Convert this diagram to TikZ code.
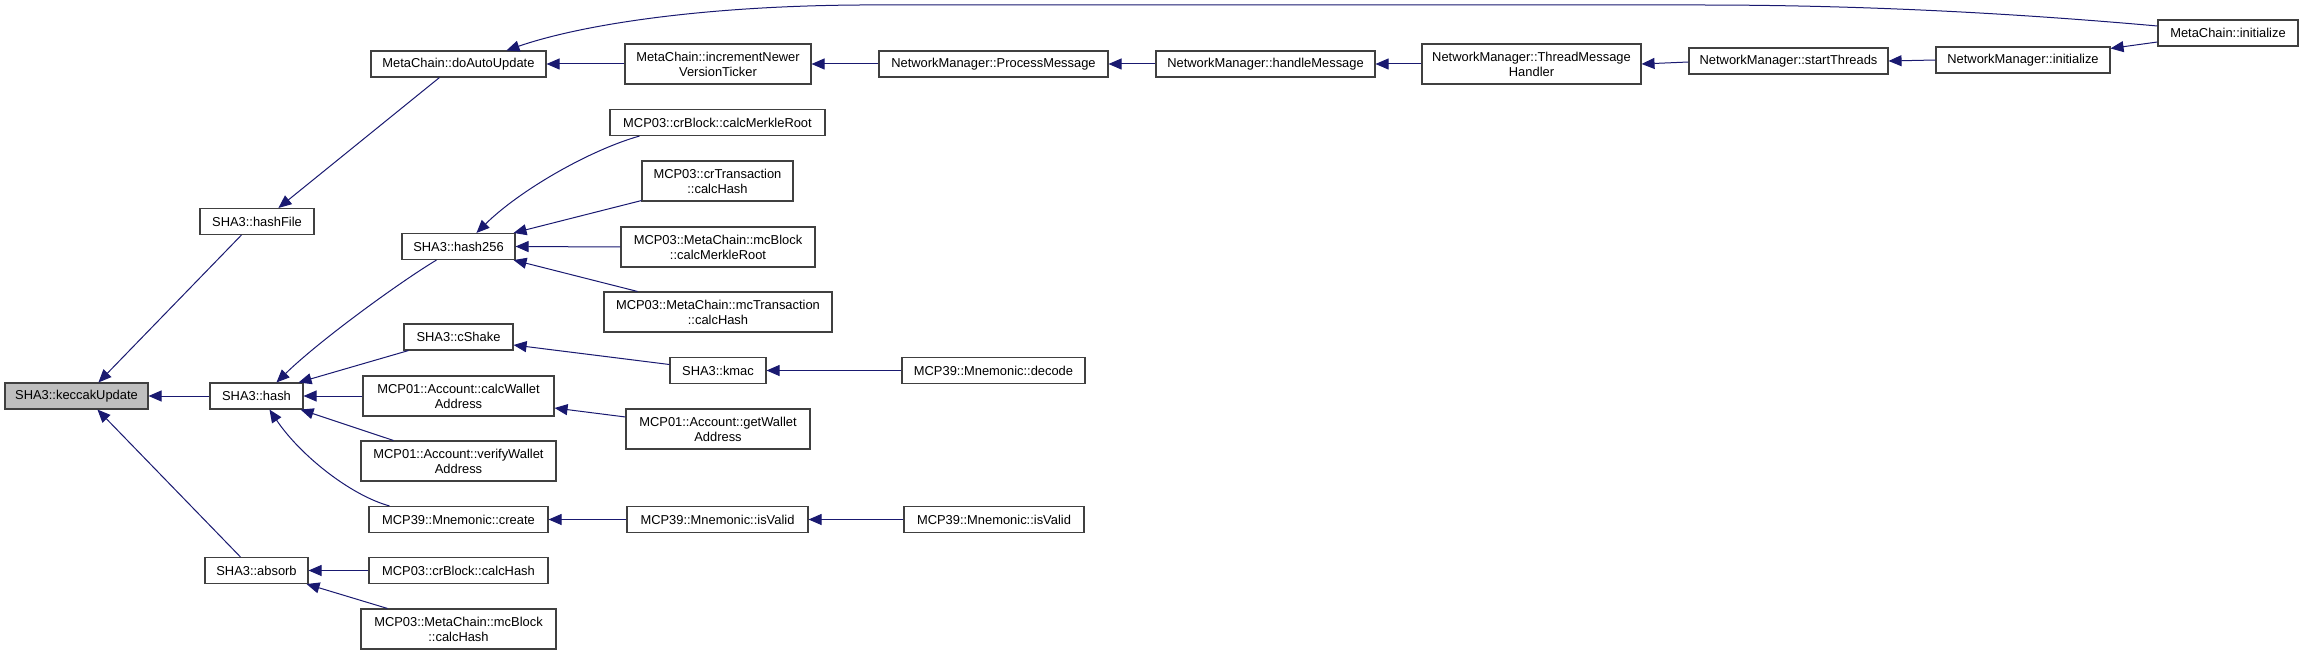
\documentclass[tikz,border=0pt]{standalone}
\usepackage{fontspec}
\setmainfont{Liberation Sans}
\usetikzlibrary{arrows.meta}
\definecolor{edgecol}{HTML}{191970}
\definecolor{boxcol}{HTML}{404040}
\definecolor{curfill}{HTML}{BFBFBF}
\begin{document}
\begin{tikzpicture}[x=1pt,y=-1pt,
  fn/.style={draw=boxcol, line width=1.1pt, fill=white, inner sep=0pt, align=center,
    font=\fontsize{12.9}{15}\selectfont, text=black},
  one/.style={minimum height=26pt},
  two/.style={minimum height=40pt},
  edge/.style={draw=edgecol, line width=1pt, -{Triangle[length=13pt,width=11pt]}}]
\useasboundingbox (0,0) rectangle (2303,655);
% column 0
\node[fn,one,fill=curfill,minimum width=143pt] (keccak) at (76.5,396) {SHA3::keccakUpdate};
% column 1
\node[fn,one,minimum width=114pt] (hashFile) at (257,221.5) {SHA3::hashFile};
\node[fn,one,minimum width=93pt] (hash) at (256.5,396) {SHA3::hash};
\node[fn,one,minimum width=103pt] (absorb) at (256.5,570.5) {SHA3::absorb};
% column 2
\node[fn,one,minimum width=175pt] (doAuto) at (458.5,64) {MetaChain::doAutoUpdate};
\node[fn,one,minimum width=113pt] (hash256) at (458.5,246.5) {SHA3::hash256};
\node[fn,one,minimum width=109pt] (cShake) at (458.5,337) {SHA3::cShake};
\node[fn,two,minimum width=191pt] (calcWallet) at (458.5,396) {MCP01::Account::calcWallet\\Address};
\node[fn,two,minimum width=195pt] (verifyWallet) at (458.5,461) {MCP01::Account::verifyWallet\\Address};
\node[fn,one,minimum width=179pt] (create) at (458.5,519.5) {MCP39::Mnemonic::create};
\node[fn,one,minimum width=179pt] (crBlockHash) at (458.5,570.5) {MCP03::crBlock::calcHash};
\node[fn,two,minimum width=195pt] (mcBlockHash) at (458.5,629) {MCP03::MetaChain::mcBlock\\::calcHash};
% column 3
\node[fn,two,minimum width=186pt] (incNewer) at (718,64) {MetaChain::incrementNewer\\VersionTicker};
\node[fn,one,minimum width=215pt] (crMerkle) at (717.5,122.5) {MCP03::crBlock::calcMerkleRoot};
\node[fn,two,minimum width=151pt] (crTrans) at (717.5,181) {MCP03::crTransaction\\::calcHash};
\node[fn,two,minimum width=194pt] (mcMerkle) at (718,247) {MCP03::MetaChain::mcBlock\\::calcMerkleRoot};
\node[fn,two,minimum width=228pt] (mcTrans) at (718,312) {MCP03::MetaChain::mcTransaction\\::calcHash};
\node[fn,one,minimum width=96pt] (kmac) at (718,370.5) {SHA3::kmac};
\node[fn,two,minimum width=184pt] (getWallet) at (718,429) {MCP01::Account::getWallet\\Address};
\node[fn,one,minimum width=181pt] (isValidA) at (717.5,519.5) {MCP39::Mnemonic::isValid};
% column 4
\node[fn,one,minimum width=229pt] (procMsg) at (993.5,64) {NetworkManager::ProcessMessage};
\node[fn,one,minimum width=183pt] (decode) at (993.5,370.5) {MCP39::Mnemonic::decode};
\node[fn,one,minimum width=180pt] (isValidB) at (994,519.5) {MCP39::Mnemonic::isValid};
% columns 5-8
\node[fn,one,minimum width=219pt] (handleMsg) at (1265.5,64) {NetworkManager::handleMessage};
\node[fn,two,minimum width=219pt] (threadMH) at (1531.5,64) {NetworkManager::ThreadMessage\\Handler};
\node[fn,one,minimum width=199pt] (startThreads) at (1788.5,61) {NetworkManager::startThreads};
\node[fn,one,minimum width=174pt] (nmInit) at (2023,60) {NetworkManager::initialize};
\node[fn,one,minimum width=140pt] (mcInit) at (2228,33) {MetaChain::initialize};

% edges
\draw[edge] ([yshift=7pt]mcInit.west) .. controls (2000,12) and (1850,5) .. (1700,5)
   -- (860,5) .. controls (700,6) and (580,25) .. ([xshift=136pt]doAuto.north west);
\draw[edge] ([yshift=-9pt]mcInit.west) -- ([yshift=-2pt]nmInit.north east);
\draw[edge] (nmInit.west) -- (startThreads.east);
\draw[edge] ([yshift=-1pt]startThreads.west) -- (threadMH.east);
\draw[edge] (threadMH.west) -- (handleMsg.east);
\draw[edge] (handleMsg.west) -- (procMsg.east);
\draw[edge] (procMsg.west) -- (incNewer.east);
\draw[edge] (incNewer.west) -- (doAuto.east);
\draw[edge] ([xshift=69pt]doAuto.south west) -- ([xshift=79pt]hashFile.north west);
\draw[edge] ([xshift=42pt]hashFile.south west) -- ([xshift=94pt]keccak.north west);
\draw[edge] (hash.west) -- (keccak.east);
\draw[edge] ([xshift=36pt]absorb.north west) -- ([xshift=93pt]keccak.south west);
\draw[edge] ([xshift=30pt]crMerkle.south west) .. controls (590,150) and (520,190) .. ([xshift=75pt]hash256.north west);
\draw[edge] ([yshift=1pt]crTrans.south west) -- ([xshift=-2pt]hash256.north east);
\draw[edge] (mcMerkle.west) -- (hash256.east);
\draw[edge] ([xshift=34pt]mcTrans.north west) -- ([xshift=-2pt]hash256.south east);
\draw[edge] ([xshift=35pt]hash256.south west) .. controls (400,282) and (320,340) .. ([xshift=67pt]hash.north west);
\draw[edge] ([xshift=5pt]cShake.south west) -- ([xshift=-5pt]hash.north east);
\draw[edge] (calcWallet.west) -- (hash.east);
\draw[edge] ([xshift=33pt]verifyWallet.north west) -- ([xshift=-3pt]hash.south east);
\draw[edge] ([xshift=21pt]create.north west) .. controls (350,495) and (300,455) .. ([xshift=60pt]hash.south west);
\draw[edge] ([yshift=6pt]kmac.west) -- ([yshift=-8pt]cShake.east);
\draw[edge] (decode.west) -- (kmac.east);
\draw[edge] ([yshift=12pt]getWallet.west) -- ([yshift=-12pt]calcWallet.east);
\draw[edge] (isValidA.west) -- (create.east);
\draw[edge] (isValidB.west) -- (isValidA.east);
\draw[edge] (crBlockHash.west) -- (absorb.east);
\draw[edge] ([xshift=27pt]mcBlockHash.north west) -- ([xshift=-2pt]absorb.south east);
\end{tikzpicture}
\end{document}
